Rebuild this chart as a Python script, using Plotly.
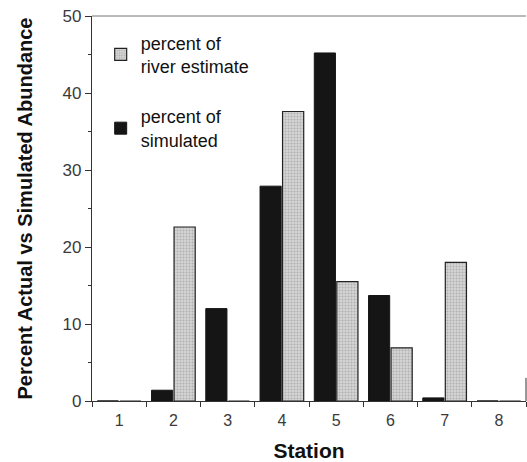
import plotly.graph_objects as go

stations = ["1", "2", "3", "4", "5", "6", "7", "8"]
pct_simulated = [0, 1.4, 12.0, 27.9, 45.2, 13.7, 0.4, 0]
pct_river = [0, 22.6, 0, 37.6, 15.5, 6.9, 18.0, 0]
y_ticks = [0, 10, 20, 30, 40, 50]

font_family = "Liberation Sans, Arial, sans-serif"

fig = go.Figure()
fig.add_trace(go.Bar(
    x=stations, y=pct_simulated, name="percent of<br>simulated",
    marker=dict(color="#151515", line=dict(color="#151515", width=1)),
    legendrank=2, legendgroup="b",
))
fig.add_trace(go.Bar(
    x=stations, y=pct_river, name="percent of<br>river estimate",
    marker=dict(color="#d4d4d4", line=dict(color="#222222", width=1.2),
                pattern=dict(shape=".", fgcolor="#8a8a8a", size=3, solidity=0.35)),
    legendrank=1, legendgroup="a",
))

fig.update_layout(
    width=527, height=462,
    margin=dict(l=92, r=1, t=16, b=61),
    paper_bgcolor="white", plot_bgcolor="white",
    barmode="group", bargap=0.17, bargroupgap=0.06,
    font=dict(family=font_family, color="#222222", size=14),
    showlegend=True,
    legend=dict(x=0.02, y=0.978, xanchor="left", yanchor="top",
                font=dict(size=18, color="#111111"),
                bgcolor="rgba(0,0,0,0)", tracegroupgap=24,
                itemwidth=30, traceorder="grouped"),
    xaxis=dict(
        type="category", range=[-0.5, 7.5],
        showline=True, linecolor="#333333", linewidth=1.2,
        ticks="outside", tickson="boundaries", ticklen=5, tickcolor="#333333",
        ticklabelstandoff=5,
        tickfont=dict(size=16, color="#3a3a3a"),
        title=dict(text="<b>Station</b>", font=dict(size=21, color="#111111"), standoff=16),
        showgrid=False, zeroline=False,
    ),
    yaxis=dict(
        range=[0, 50], tickvals=y_ticks,
        showline=True, linecolor="#333333", linewidth=1.2,
        ticks="outside", ticklen=6, tickcolor="#333333",
        minor=dict(dtick=5, ticks="outside", ticklen=3, tickcolor="#333333"),
        tickfont=dict(size=17, color="#3a3a3a"),
        title=dict(text="<b>Percent Actual vs Simulated Abundance</b>",
                   font=dict(size=20, color="#111111"), standoff=24),
        showgrid=False, zeroline=False,
    ),
)
# top frame line and short right edge
fig.add_shape(type="line", xref="paper", yref="paper", x0=0, x1=1, y0=1, y1=1,
              line=dict(color="#777777", width=1))
fig.add_shape(type="line", xref="paper", yref="y", x0=1, x1=1, y0=0, y1=3,
              line=dict(color="#333333", width=1))

fig.write_html("out.html")
